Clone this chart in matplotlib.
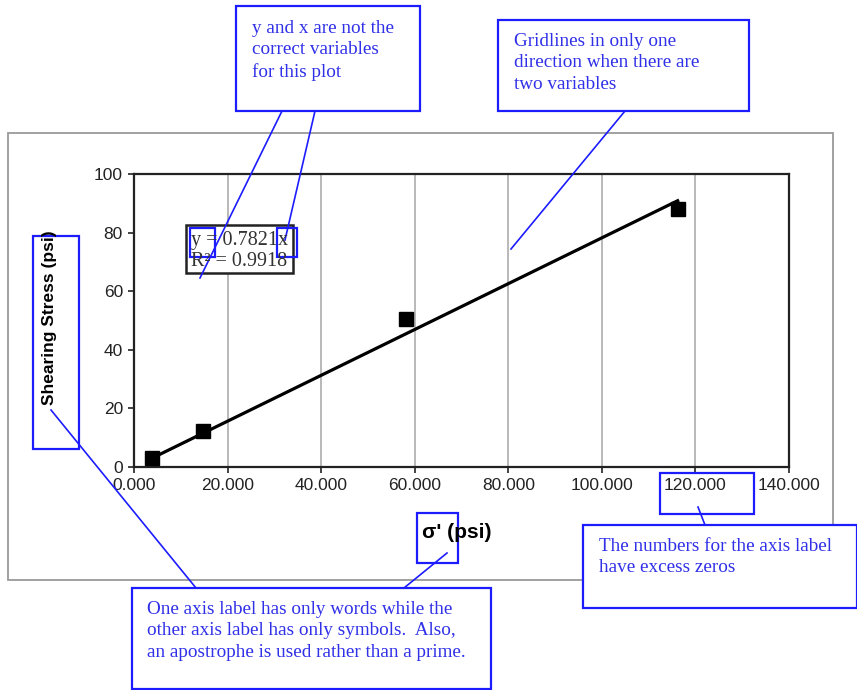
import numpy as np
import matplotlib.pyplot as plt
from matplotlib.patches import Rectangle

# data
sigma = [3.9, 14.8, 58.2, 116.2]          # sigma' (psi)
shear = [3.2, 12.4, 50.6, 88.1]           # shearing stress (psi)
slope = 0.7821
r2 = 0.9918
xticks = [0, 20, 40, 60, 80, 100, 120, 140]
yticks = [0, 20, 40, 60, 80, 100]

W, H = 857, 690
fig = plt.figure(figsize=(W / 100, H / 100), dpi=100)

def px_axes(l, t, r, b):
    return [l / W, 1 - b / H, (r - l) / W, (b - t) / H]

# outer chart frame
bg = fig.add_axes([0, 0, 1, 1], zorder=0)
bg.set_xlim(0, W)
bg.set_ylim(H, 0)
bg.axis('off')
bg.add_patch(Rectangle((8, 133), 825, 447, fill=False, ec='#9a9a9a', lw=1.3))

# plot area
ax = fig.add_axes(px_axes(134, 174, 789, 467), zorder=1)
ax.set_xlim(0, 140)
ax.set_ylim(0, 100)
ax.set_xticks(xticks)
ax.set_yticks(yticks)
ax.set_xticklabels([f'{v:.3f}' for v in xticks], fontfamily='Liberation Sans', fontsize=12.5)
ax.set_yticklabels([str(v) for v in yticks], fontfamily='Liberation Sans', fontsize=12.5)
ax.tick_params(direction='out', length=4, width=1.2, pad=4, colors='#222222')
ax.grid(axis='x', color='#b3b3b3', lw=1.3)
for s in ax.spines.values():
    s.set_linewidth(1.6)
    s.set_color('#222222')
ax.set_axisbelow(True)

xfit = np.array([min(sigma), max(sigma)])
ax.plot(xfit, slope * xfit, color='black', lw=2.3, zorder=3)
ax.plot(sigma, shear, ls='none', marker='s', ms=10, color='black', zorder=4)

# overlay for labels and callouts, in pixel coords
ov = fig.add_axes([0, 0, 1, 1], zorder=2)
ov.set_xlim(0, W)
ov.set_ylim(H, 0)
ov.axis('off')
ov.patch.set_alpha(0)

ov.text(50, 318, 'Shearing Stress (psi)', rotation=90, ha='center', va='center',
        fontfamily='Liberation Sans', fontweight='bold', fontsize=12.5)
ov.text(457, 533, "σ' (psi)", ha='center', va='center',
        fontfamily='Liberation Sans', fontweight='bold', fontsize=15)

# equation box
ov.add_patch(Rectangle((186, 225), 107, 48, facecolor='white', ec='#222222', lw=1.8))
ov.text(191, 241, f'y = {slope}x', ha='left', va='center',
        fontfamily='Liberation Serif', fontsize=14.5, color='#333333')
ov.text(191, 262, f'R² = {r2}', ha='left', va='center',
        fontfamily='Liberation Serif', fontsize=14.5, color='#333333')

blue = '#1c1cff'
tblue = '#3030e8'

def box(l, t, r, b, fill=False):
    ov.add_patch(Rectangle((l, t), r - l, b - t, fill=fill, facecolor='white',
                           ec=blue, lw=1.6))

def seg(x0, y0, x1, y1):
    ov.plot([x0, x1], [y0, y1], color=blue, lw=1.2)

def note(x, y, s):
    ov.text(x, y, s, ha='left', va='top', fontfamily='Liberation Serif',
            fontsize=13.8, color=tblue, linespacing=1.33)

# highlight boxes
box(190, 228, 215, 257)
box(277, 228, 297, 257)
box(33, 236, 79, 449)
box(417, 513, 458, 563)
box(660, 473, 754, 514)

# callout lines
seg(282, 111, 200, 278)
seg(315, 111, 285, 240)
seg(625, 111, 511, 249)
seg(51, 410, 196, 588)
seg(404, 588, 447, 553)
seg(698, 507, 705, 525)

# callout boxes
box(236, 6, 420, 111, fill=True)
note(252, 20, 'y and x are not the\ncorrect variables\nfor this plot')

box(498, 20, 749, 111, fill=True)
note(514, 33, 'Gridlines in only one\ndirection when there are\ntwo variables')

box(583, 525, 857, 608, fill=True)
note(599, 538, 'The numbers for the axis label\nhave excess zeros')

box(132, 588, 491, 689, fill=True)
note(147, 601, 'One axis label has only words while the\nother axis label has only symbols.  Also,\nan apostrophe is used rather than a prime.')

fig.savefig('out.png', dpi=100)
